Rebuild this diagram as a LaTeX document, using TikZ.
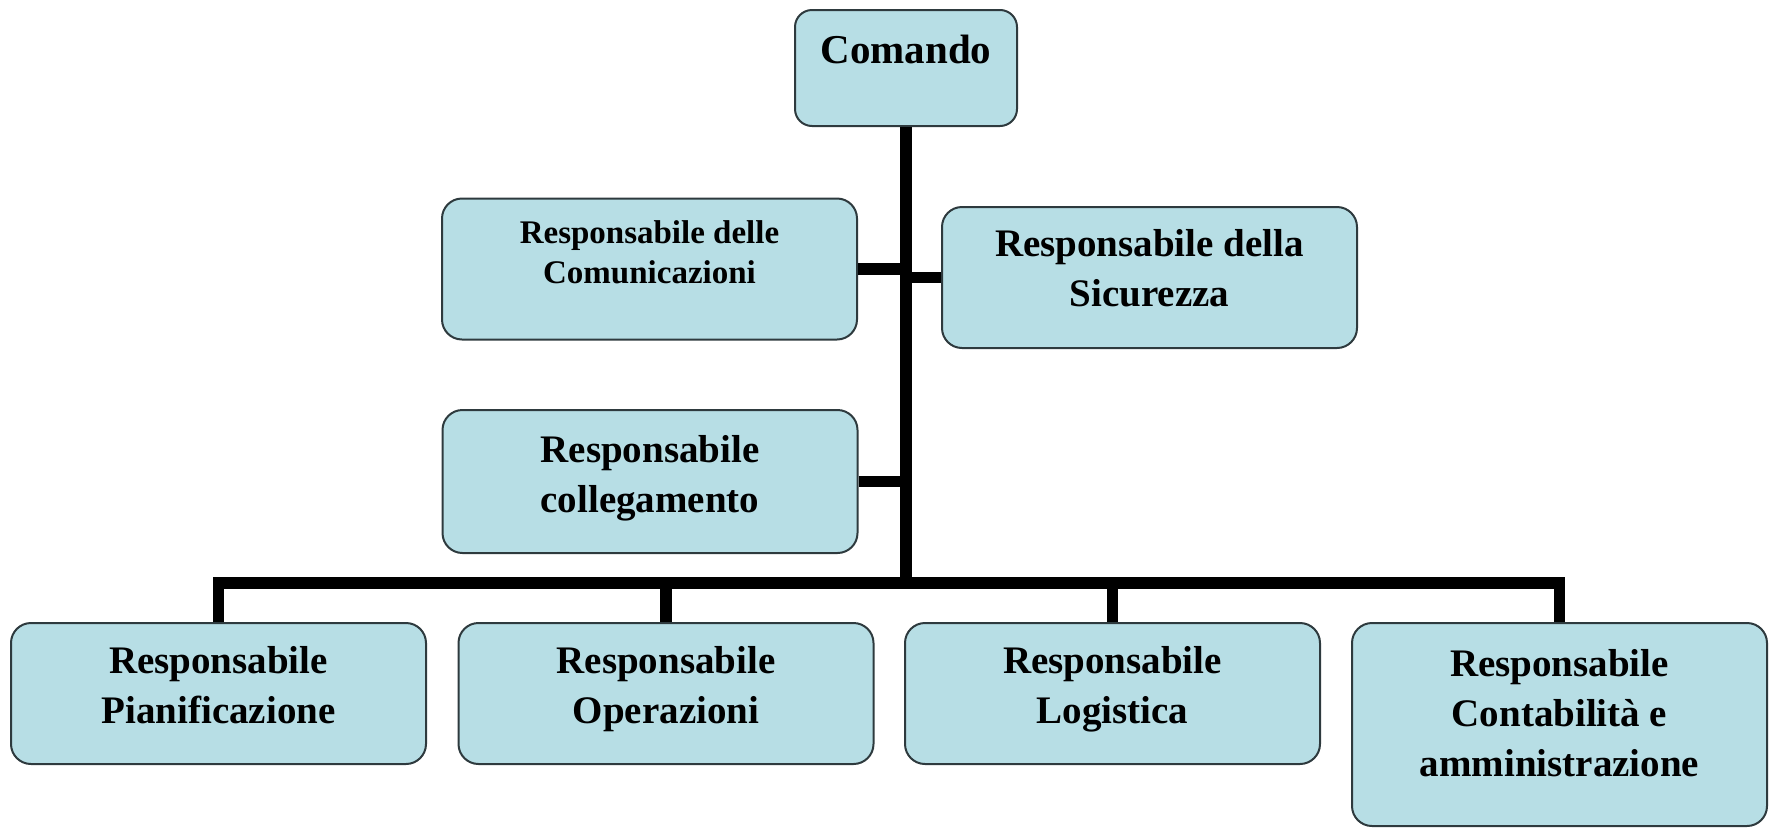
\documentclass[tikz,border=0pt]{standalone}
\usepackage{fontspec}
\setmainfont{Liberation Serif}
\usepackage{tikz}
\usetikzlibrary{positioning, calc}
\definecolor{boxfill}{HTML}{B7DEE5}
\definecolor{boxline}{HTML}{2E3A3E}

\begin{document}
\begin{tikzpicture}[
  x=1pt, y=-1pt,
  font=\bfseries\fontsize{39}{50}\selectfont,
  unit/.style={draw=boxline, line width=2pt, fill=boxfill, rounded corners=20pt,
               align=center, minimum width=415pt, minimum height=141pt, inner sep=0pt,
               text depth=17.5pt},
  link/.style={draw=black, line width=11.5pt}
]
\useasboundingbox (0,0) rectangle (1772,828);

\node[unit, minimum width=222pt, minimum height=116pt, rounded corners=17pt,
      text depth=38pt, font=\bfseries\fontsize{41}{48}\selectfont] (cmd) at (906,68) {Comando};
\node[unit, text depth=34pt, font=\bfseries\fontsize{33}{40}\selectfont] (com) at (649.5,269)
  {Responsabile delle\\Comunicazioni};
\node[unit, text depth=19.5pt] (sic) at (1149.5,277.5) {Responsabile della\\Sicurezza};
\node[unit, minimum height=143pt, text depth=15.5pt] (col) at (650,481.5) {Responsabile\\collegamento};

\node[unit] (pia) at (218.5,693.5) {Responsabile\\Pianificazione};
\node[unit] (ope) at (666,693.5)   {Responsabile\\Operazioni};
\node[unit] (log) at (1112.5,693.5) {Responsabile\\Logistica};
\node[unit, minimum height=203pt, text depth=22.5pt] (con) at (1559.5,724.5)
  {Responsabile\\Contabilità e\\amministrazione};

% trunk and side branches
\coordinate (bus) at (906,583);
\draw[link] (cmd.south) -- (bus);
\draw[link] (com.east) -- (com.east -| bus);
\draw[link] (sic.west) -- (sic.west -| bus);
\draw[link] (col.east) -- (col.east -| bus);
% bottom bus
\draw[link] (pia.north) |- (bus) -| (con.north);
\draw[link] (ope.north) -- (ope.north |- bus);
\draw[link] (log.north) -- (log.north |- bus);
\end{tikzpicture}
\end{document}
